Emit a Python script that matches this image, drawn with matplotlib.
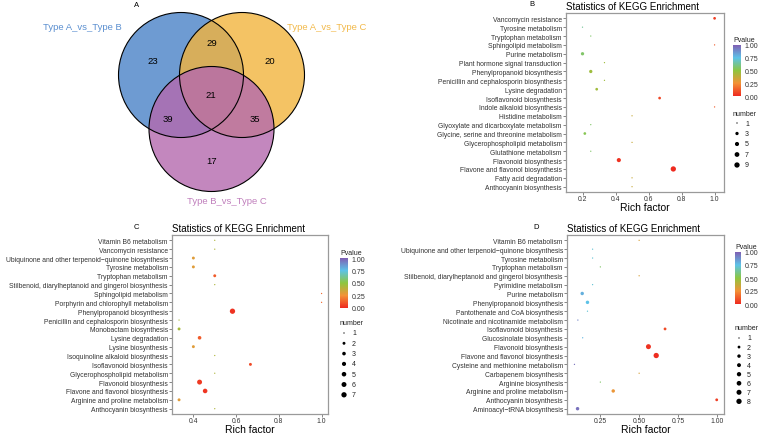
import numpy as np
import matplotlib.pyplot as plt
from matplotlib.patches import Circle
from matplotlib.colors import LinearSegmentedColormap

plt.rcParams['font.family'] = ['Liberation Sans', 'DejaVu Sans']

W, H = 762, 435

# ---- Venn (panel A) ----
venn_names = ['Type A_vs_Type B', 'Type A_vs_Type C', 'Type B_vs_Type C']
venn_fill = ['#4A82C7', '#F2B43D', '#B469AE']
venn_text = ['#5B8FD0', '#F2B94A', '#C07FBC']
only_ab, only_ac, only_bc = 23, 20, 17
ab_ac, ab_bc, ac_bc, all_three = 29, 39, 35, 21

# ---- Panel B ----
b_terms = ['Vancomycin resistance', 'Tyrosine metabolism', 'Tryptophan metabolism',
           'Sphingolipid metabolism', 'Purine metabolism', 'Plant hormone signal transduction',
           'Phenylpropanoid biosynthesis', 'Penicillin and cephalosporin biosynthesis',
           'Lysine degradation', 'Isoflavonoid biosynthesis', 'Indole alkaloid biosynthesis',
           'Histidine metabolism', 'Glyoxylate and dicarboxylate metabolism',
           'Glycine, serine and threonine metabolism', 'Glycerophospholipid metabolism',
           'Glutathione metabolism', 'Flavonoid biosynthesis', 'Flavone and flavonol biosynthesis',
           'Fatty acid degradation', 'Anthocyanin biosynthesis']
b_rich = [1.0, 0.2, 0.25, 1.0, 0.2, 0.333, 0.25, 0.333, 0.286, 0.667, 1.0,
          0.5, 0.25, 0.214, 0.5, 0.25, 0.42, 0.75, 0.5, 0.5]
b_num = [2, 1, 1, 1, 3, 1, 3, 1, 2, 2, 1, 1, 1, 2, 1, 1, 5, 9, 1, 1]
b_pval = [0.05, 0.63, 0.56, 0.12, 0.56, 0.46, 0.46, 0.46, 0.45, 0.07, 0.12,
          0.36, 0.56, 0.53, 0.36, 0.56, 0.02, 0.0, 0.36, 0.36]

# ---- Panel C ----
c_terms = ['Vitamin B6 metabolism', 'Vancomycin resistance',
           'Ubiquinone and other terpenoid\u2212quinone biosynthesis', 'Tyrosine metabolism',
           'Tryptophan metabolism', 'Stilbenoid, diarylheptanoid and gingerol biosynthesis',
           'Sphingolipid metabolism', 'Porphyrin and chlorophyll metabolism',
           'Phenylpropanoid biosynthesis', 'Penicillin and cephalosporin biosynthesis',
           'Monobactam biosynthesis', 'Lysine degradation', 'Lysine biosynthesis',
           'Isoquinoline alkaloid biosynthesis', 'Isoflavonoid biosynthesis',
           'Glycerophospholipid metabolism', 'Flavonoid biosynthesis',
           'Flavone and flavonol biosynthesis', 'Arginine and proline metabolism',
           'Anthocyanin biosynthesis']
c_rich = [0.5, 0.5, 0.4, 0.4, 0.5, 0.5, 1.0, 1.0, 0.583, 0.333,
          0.333, 0.429, 0.4, 0.5, 0.667, 0.5, 0.429, 0.455, 0.333, 0.5]
c_num = [1, 1, 2, 2, 2, 1, 1, 1, 7, 1, 2, 3, 2, 1, 2, 1, 6, 5, 2, 1]
c_pval = [0.42, 0.42, 0.3, 0.3, 0.12, 0.42, 0.15, 0.15, 0.02, 0.44,
          0.44, 0.12, 0.3, 0.42, 0.08, 0.42, 0.04, 0.03, 0.3, 0.42]

# ---- Panel D ----
d_terms = ['Vitamin B6 metabolism', 'Ubiquinone and other terpenoid\u2212quinone biosynthesis',
           'Tyrosine metabolism', 'Tryptophan metabolism',
           'Stilbenoid, diarylheptanoid and gingerol biosynthesis', 'Pyrimidine metabolism',
           'Purine metabolism', 'Phenylpropanoid biosynthesis',
           'Pantothenate and CoA biosynthesis', 'Nicotinate and nicotinamide metabolism',
           'Isoflavonoid biosynthesis', 'Glucosinolate biosynthesis', 'Flavonoid biosynthesis',
           'Flavone and flavonol biosynthesis', 'Cysteine and methionine metabolism',
           'Carbapenem biosynthesis', 'Arginine biosynthesis', 'Arginine and proline metabolism',
           'Anthocyanin biosynthesis', 'Aminoacyl\u2212tRNA biosynthesis']
d_rich = [0.5, 0.2, 0.2, 0.25, 0.5, 0.2, 0.133, 0.167, 0.167, 0.105,
          0.667, 0.136, 0.56, 0.61, 0.083, 0.5, 0.25, 0.333, 1.0, 0.103]
d_num = [1, 1, 1, 1, 1, 1, 3, 3, 1, 1, 2, 1, 7, 8, 1, 1, 1, 3, 2, 3]
d_pval = [0.32, 0.72, 0.72, 0.56, 0.32, 0.72, 0.8, 0.75, 0.72, 0.9,
          0.08, 0.78, 0.02, 0.01, 0.95, 0.32, 0.56, 0.27, 0.05, 0.95]

cmap = LinearSegmentedColormap.from_list(
    'pv', [(0, '#EE2A1F'), (0.25, '#F39237'), (0.5, '#8DC63F'), (0.75, '#5DC3E8'), (1, '#7F5FB3')])


def px(l, t, r, b):
    return [l / W, 1 - b / H, (r - l) / W, (b - t) / H]


def dot_size(n, nmin, nmax):
    frac = (np.asarray(n, dtype=float) - nmin) / (nmax - nmin)
    d = 1.3 + 4.0 * np.sqrt(frac)  # diameter in px
    return (d * 0.72) ** 2


fig = plt.figure(figsize=(W / 100, H / 100), dpi=100)
ov = fig.add_axes([0, 0, 1, 1], zorder=5)
ov.set_xlim(0, W)
ov.set_ylim(H, 0)
ov.axis('off')


def dotplot(rect, terms, rich, num, pval, xlim, xticks, xtl, letter, letter_xy,
            cbar_rect, leg_x, leg_top, step):
    ax = fig.add_axes(px(*rect))
    y = np.arange(len(terms))[::-1]
    nmin, nmax = min(num), max(num)
    sc = ax.scatter(rich, y, s=dot_size(num, nmin, nmax), c=pval, cmap=cmap,
                    vmin=0, vmax=1, linewidths=0, zorder=3)
    ax.set_ylim(-0.6, len(terms) - 0.4)
    ax.set_xlim(*xlim)
    ax.set_yticks(y)
    ax.set_yticklabels(terms)
    ax.set_xticks(xticks)
    ax.set_xticklabels(xtl)
    ax.tick_params(labelsize=4.9, labelcolor='#333333', length=2, width=0.5,
                   color='#555555', pad=1)
    ax.tick_params(axis='x', pad=0.5)
    for sp in ax.spines.values():
        sp.set_color('#9a9a9a')
        sp.set_linewidth(0.9)
    ax.set_xlabel('Rich factor', fontsize=7.5, labelpad=0)
    ax.set_title('Statistics of KEGG Enrichment', loc='left', fontsize=7, pad=3)
    ov.text(letter_xy[0], letter_xy[1], letter, fontsize=5.5, ha='center', va='center')

    # colour bar
    cax = fig.add_axes(px(*cbar_rect))
    cb = fig.colorbar(sc, cax=cax, ticks=[0, 0.25, 0.5, 0.75, 1])
    cb.ax.set_yticklabels(['0.00', '0.25', '0.50', '0.75', '1.00'])
    cb.outline.set_visible(False)
    cb.ax.tick_params(labelsize=5, labelcolor='#333333', length=1.5, width=0.5,
                      color='white', pad=1)
    ov.text(cbar_rect[0], cbar_rect[1] - 2, 'Pvalue', fontsize=5, va='bottom', color='#222222')

    # size legend
    ov.text(leg_x, leg_top, 'number', fontsize=5, va='center', color='#222222')
    levels = np.arange(nmin, nmax + 1) if nmax <= 8 else np.arange(nmin, nmax + 1, 2)
    ly = leg_top + 10 + step * np.arange(len(levels))
    ov.scatter(np.full(len(levels), leg_x + 4), ly, s=dot_size(levels, nmin, nmax),
               color='black', linewidths=0)
    for yy, lv in zip(ly, levels):
        ov.text(leg_x + 12, yy, str(lv), fontsize=5, va='center', color='#222222')


dotplot((566, 14, 724, 193), b_terms, b_rich, b_num, b_pval, (0.1, 1.057),
        [0.2, 0.4, 0.6, 0.8, 1.0], ['0.2', '0.4', '0.6', '0.8', '1.0'],
        'B', (532, 5), (733, 46, 741, 97), 733, 114, 10.5)
dotplot((172, 236, 328, 415), c_terms, c_rich, c_num, c_pval, (0.3, 1.03),
        [0.4, 0.6, 0.8, 1.0], ['0.4', '0.6', '0.8', '1.0'],
        'C', (136, 228), (340, 259, 348, 309), 340, 324, 10.3)
dotplot((567, 236, 724, 415), d_terms, d_rich, d_num, d_pval, (0.035, 1.047),
        [0.25, 0.5, 0.75, 1.0], ['0.25', '0.50', '0.75', '1.00'],
        'D', (536, 228), (735, 253, 741, 305), 735, 329, 9.05)

# ---- Venn diagram ----
centers = [(181, 76), (242, 76), (211.5, 130)]
for (cx, cy), col in zip(centers, venn_fill):
    ov.add_patch(Circle((cx, cy), 62.5, facecolor=col, alpha=0.8, edgecolor='none'))
for (cx, cy) in centers:
    ov.add_patch(Circle((cx, cy), 62.5, facecolor='none', edgecolor='black', linewidth=0.8))

counts = [only_ab, ab_ac, only_ac, all_three, ab_bc, ac_bc, only_bc]
count_xy = [(153, 61), (212, 44), (270, 61), (211, 95), (168, 119), (255, 119), (212, 162)]
for (x, y), v in zip(count_xy, counts):
    ov.text(x, y, str(v), fontsize=6.8, ha='center', va='center')

name_xy = [(82, 27), (327, 27), (227, 202)]
for (x, y), name, col in zip(name_xy, venn_names, venn_text):
    ov.text(x, y, name, fontsize=6.8, ha='center', va='center', color=col)
ov.text(137, 5.5, 'A', fontsize=5.5, ha='center', va='center')

fig.savefig('out.png', dpi=100)
